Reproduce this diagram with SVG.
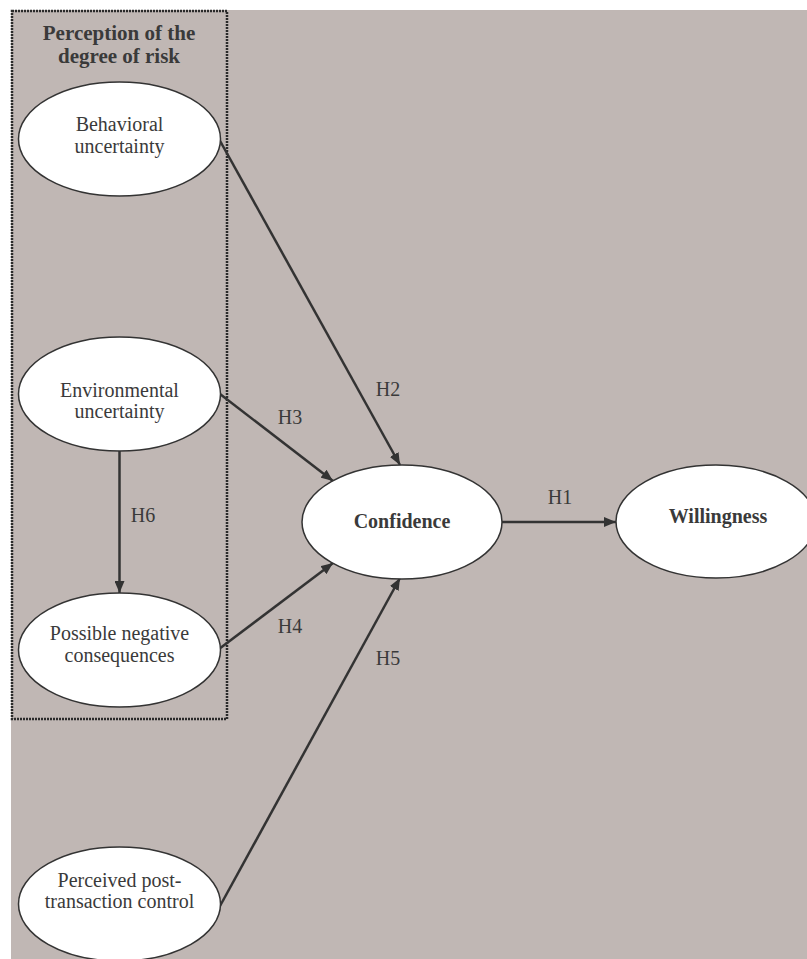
<svg xmlns="http://www.w3.org/2000/svg" width="807" height="959" viewBox="0 0 807 959">
<style>
.node ellipse{fill:#fff;stroke:#333;stroke-width:1.5}
text{font-family:"Liberation Serif","Times New Roman",serif;font-size:20px;fill:#3a3a3a;text-anchor:middle}
.b{font-weight:bold}
.t{font-size:21px}
.edge{stroke:#333;stroke-width:2.5;fill:none}
</style>
<defs>
<marker id="ah" viewBox="0 0 12 10" refX="12" refY="5" markerWidth="12" markerHeight="10" markerUnits="userSpaceOnUse" orient="auto">
<path d="M0,0 L12,5 L0,10 z" fill="#333"/>
</marker>
</defs>
<rect x="11" y="10" width="796" height="949" fill="#c0b7b4"/>
<g id="risk-group">
<rect x="12" y="11" width="215" height="708" fill="none" stroke="#2a2a2a" stroke-width="2.5" stroke-dasharray="2,1"/>
<text class="b t" x="119" y="40">Perception of the</text>
<text class="b t" x="119" y="63">degree of risk</text>
</g>
<g id="connectors">
<line class="edge" x1="219" y1="139" x2="400" y2="465" marker-end="url(#ah)"/>
<line class="edge" x1="220" y1="394" x2="333" y2="481" marker-end="url(#ah)"/>
<line class="edge" x1="219" y1="649" x2="333" y2="563" marker-end="url(#ah)"/>
<line class="edge" x1="220" y1="906" x2="400" y2="578" marker-end="url(#ah)"/>
<line class="edge" x1="119.5" y1="451" x2="119.5" y2="593" marker-end="url(#ah)"/>
<line class="edge" x1="502" y1="522" x2="616" y2="522" marker-end="url(#ah)"/>
<text x="560" y="504">H1</text>
<text x="388" y="396">H2</text>
<text x="290" y="424">H3</text>
<text x="290" y="633">H4</text>
<text x="388" y="665">H5</text>
<text x="143" y="522">H6</text>
</g>
<g id="behavioral" class="node">
<ellipse cx="119.5" cy="139" rx="101" ry="57"/>
<text x="119.5" y="131">Behavioral</text>
<text x="119.5" y="153">uncertainty</text>
</g>
<g id="environmental" class="node">
<ellipse cx="119.5" cy="394" rx="101" ry="57"/>
<text x="119.5" y="397">Environmental</text>
<text x="119.5" y="418">uncertainty</text>
</g>
<g id="negative" class="node">
<ellipse cx="119.5" cy="650" rx="101" ry="57"/>
<text x="119.5" y="640">Possible negative</text>
<text x="119.5" y="662">consequences</text>
</g>
<g id="control" class="node">
<ellipse cx="119.5" cy="904" rx="101" ry="57"/>
<text x="119.5" y="887">Perceived post-</text>
<text x="119.5" y="908">transaction control</text>
</g>
<g id="confidence" class="node">
<ellipse cx="402" cy="522" rx="100" ry="57"/>
<text class="b" x="402" y="528">Confidence</text>
</g>
<g id="willingness" class="node">
<ellipse cx="716" cy="521.5" rx="100" ry="56.5"/>
<text class="b" x="718" y="523">Willingness</text>
</g>
</svg>
